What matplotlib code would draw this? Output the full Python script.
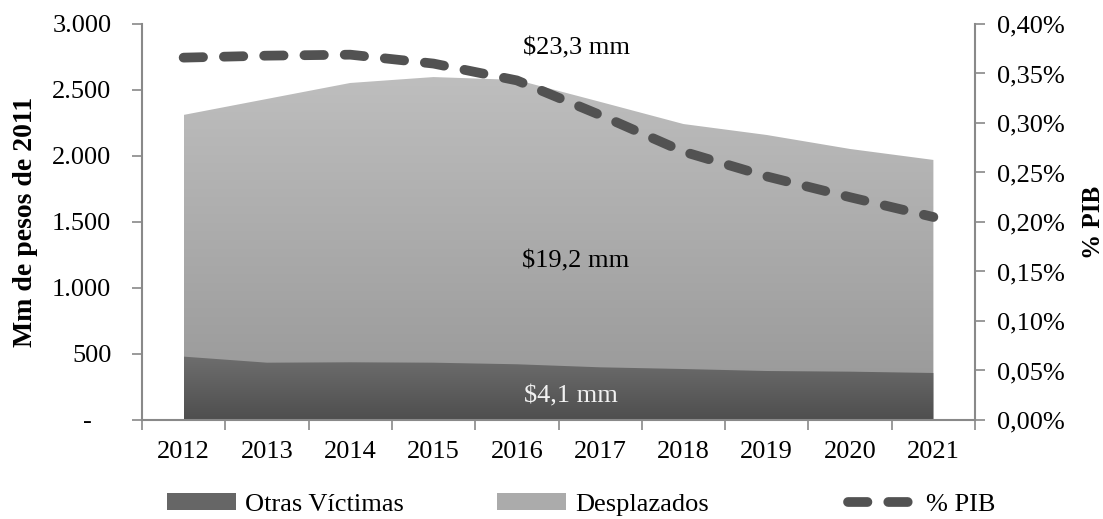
import numpy as np
import matplotlib.pyplot as plt
from matplotlib.colors import LinearSegmentedColormap
from matplotlib.patches import Patch
from matplotlib.lines import Line2D
from matplotlib.ticker import FuncFormatter

plt.rcParams['font.family'] = ['Liberation Serif', 'DejaVu Serif']
plt.rcParams['lines.scale_dashes'] = False

# datos
anios = ['2012', '2013', '2014', '2015', '2016', '2017', '2018', '2019', '2020', '2021']
otras_victimas = [480, 434, 437, 434, 422, 399, 386, 371, 366, 356]
desplazados = [1831, 1998, 2116, 2164, 2154, 2011, 1856, 1788, 1687, 1614]
pib = [0.366, 0.368, 0.369, 0.360, 0.343, 0.308, 0.271, 0.246, 0.225, 0.205]

gris_eje = '#898989'
tam = 19

x = np.arange(len(anios))
total = np.array(otras_victimas) + np.array(desplazados)


def relleno_gradiente(ax, x, abajo, arriba, c_arriba, c_abajo):
    poly = ax.fill_between(x, abajo, arriba, facecolor='none', edgecolor='none')
    cmap = LinearSegmentedColormap.from_list('g', [c_abajo, c_arriba])
    grad = np.linspace(0, 1, 256).reshape(-1, 1)
    im = ax.imshow(grad, cmap=cmap, aspect='auto', origin='lower',
                   extent=[x[0], x[-1], 0, max(arriba)], zorder=1)
    im.set_clip_path(poly.get_paths()[0], transform=ax.transData)


fig = plt.figure(figsize=(11.03, 5.19), dpi=100)
ax = fig.add_axes([0.1287, 0.1908, 0.7553, 0.763])

relleno_gradiente(ax, x, np.zeros(len(x)), total, '#bebebe', '#969696')
relleno_gradiente(ax, x, np.zeros(len(x)), otras_victimas, '#6e6e6e', '#4e4e4e')

ax.set_xlim(-0.5, len(anios) - 0.5)
ax.set_ylim(0, 3000)
ax.set_yticks(range(0, 3001, 500))
ax.yaxis.set_major_formatter(FuncFormatter(
    lambda v, p: '-   ' if v == 0 else f'{int(v):,}'.replace(',', '.')))
ax.set_xticks(x)
ax.set_xticklabels(anios)
ax.set_xticks(np.arange(-0.5, len(anios)), minor=True)
ax.tick_params(axis='x', which='major', length=0, pad=15, labelsize=tam)
ax.tick_params(axis='x', which='minor', length=7, color=gris_eje, width=1.2)
ax.tick_params(axis='y', length=7, color=gris_eje, width=1.2, pad=15, labelsize=tam)
for lado in ['top', 'right']:
    ax.spines[lado].set_visible(False)
for lado in ['left', 'bottom']:
    ax.spines[lado].set_color(gris_eje)
    ax.spines[lado].set_linewidth(1.5)
ax.set_ylabel('Mm de pesos de 2011', fontsize=tam + 1, fontweight='bold', labelpad=10)

ax2 = ax.twinx()
ax2.plot(x, pib, color='#525252', lw=7, solid_capstyle='round',
         dash_capstyle='round', dashes=(14, 15))
ax2.set_ylim(0, 0.4)
ax2.set_yticks(np.arange(0, 0.401, 0.05))
ax2.yaxis.set_major_formatter(FuncFormatter(lambda v, p: f'{v:.2f}%'.replace('.', ',')))
ax2.tick_params(axis='y', length=7, color=gris_eje, width=1.2, pad=9, labelsize=tam)
for lado in ['top', 'left', 'bottom']:
    ax2.spines[lado].set_visible(False)
ax2.spines['right'].set_color(gris_eje)
ax2.spines['right'].set_linewidth(1.5)
ax2.set_ylabel('% PIB', fontsize=tam - 1, fontweight='bold', labelpad=12)

# totales
ax.text(4.72, 2815, f'${sum(total) / 1000:.1f} mm'.replace('.', ','),
        ha='center', va='center', fontsize=tam)
ax.text(4.7, 1200, f'${sum(desplazados) / 1000:.1f} mm'.replace('.', ','),
        ha='center', va='center', fontsize=tam, zorder=3)
ax.text(4.65, 175, f'${sum(otras_victimas) / 1000:.1f} mm'.replace('.', ','),
        ha='center', va='center', fontsize=tam, color='#f2f2f2', zorder=3)

# leyenda: una entrada por posicion
handles = [Patch(facecolor='#666666'), Patch(facecolor='#ababab'),
           Line2D([], [], color='#525252', lw=7, dash_capstyle='round', dashes=(14, 15))]
nombres = ['Otras Víctimas', 'Desplazados', '% PIB']
pos_x = [0.1514, 0.4506, 0.7688]
for h, n, px in zip(handles, nombres, pos_x):
    fig.legend([h], [n], loc='center left', bbox_to_anchor=(px, 0.028), frameon=False,
               fontsize=tam, handlelength=2.6, handleheight=0.6, handletextpad=0.35,
               borderpad=0, borderaxespad=0)

fig.savefig('out.png', dpi=100)
